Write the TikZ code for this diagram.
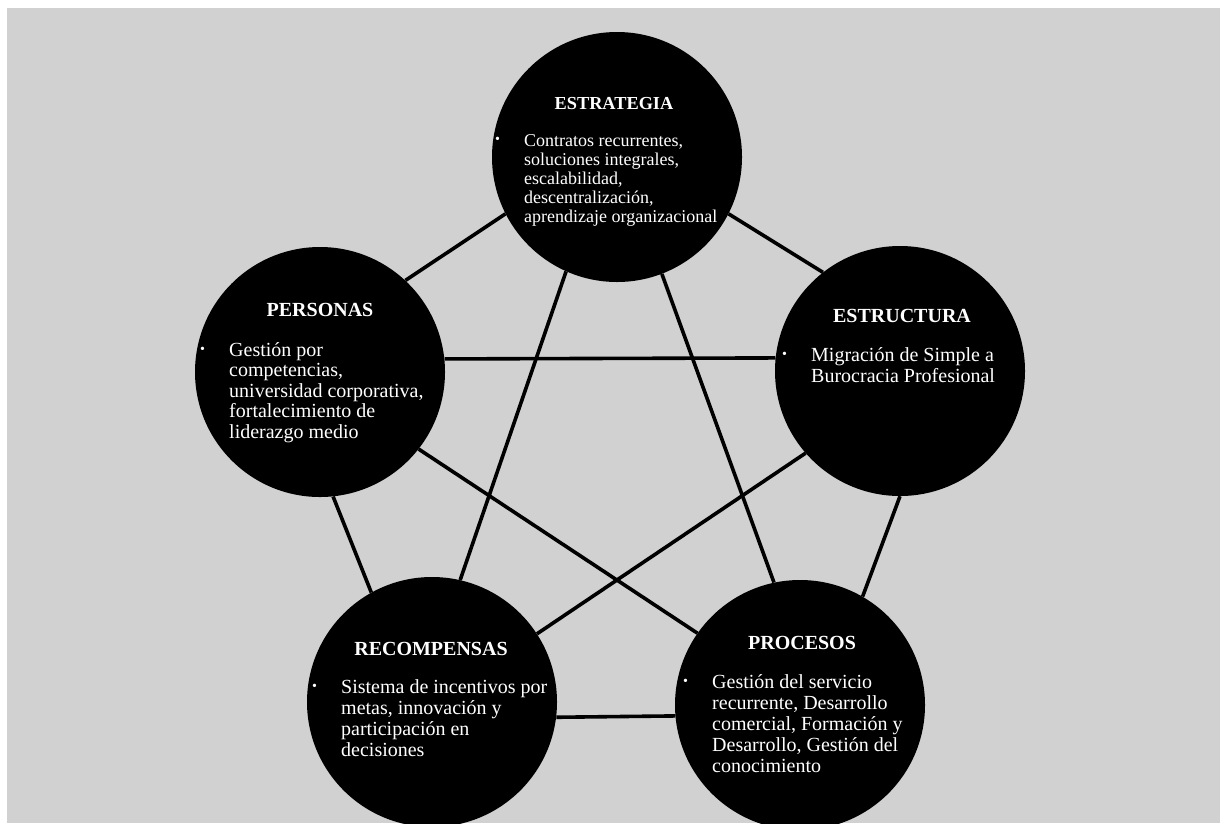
\documentclass[tikz,border=0pt]{standalone}
\usepackage{fontspec}
\setmainfont{Liberation Serif}

\definecolor{panelgray}{RGB}{209,209,209}
\pgfdeclarelayer{paper}
\pgfdeclarelayer{links}
\pgfsetlayers{paper,links,main}

% small white bullet with a fixed hanging width
\newcommand{\listdot}{\makebox[29pt][l]{\raisebox{3pt}{\fontsize{14}{14}\selectfont\textbullet}}}

\begin{document}
\begin{tikzpicture}[x=1pt,y=-1pt,
  hub/.style={circle,fill=black,minimum size=250pt,inner sep=0pt},
  link/.style={line width=3.6pt,black},
  title/.style={anchor=base,text=white,inner sep=0pt,
    font=\bfseries\fontsize{20}{20}\selectfont},
  body/.style={anchor=base west,text=white,inner sep=0pt,
    font=\fontsize{20}{21}\selectfont}]

\useasboundingbox (0,0) rectangle (1220,823);
\clip (0,0) rectangle (1220,823);

\begin{pgfonlayer}{paper}
  \fill[white] (0,0) rectangle (1220,823);
  \fill[panelgray] (7,8) rectangle (1220,823);
\end{pgfonlayer}

% the five circles
\node[hub] (est)  at (617,157) {};
\node[hub] (per)  at (320,372) {};
\node[hub] (estr) at (900,371) {};
\node[hub] (rec)  at (432,702) {};
\node[hub] (pro)  at (800,705) {};

% every circle is linked to every other one
\begin{pgfonlayer}{links}
  \draw[link] (est.207)   -- (per.47);
  \draw[link] (est.333)   -- (estr.128.5);
  \draw[link] (per.6.4)   -- (estr.174);
  \draw[link] (per.276)   -- (rec.119.6);
  \draw[link] (estr.270)  -- (pro.60);
  \draw[link] (rec.353)   -- (pro.185.5);
  \draw[link] (est.246.7) -- (rec.77);
  \draw[link] (est.291.8) -- (pro.102.8);
  \draw[link] (per.322.2) -- (pro.145.6);
  \draw[link] (estr.221.4) -- (rec.33.4);
\end{pgfonlayer}

% ESTRATEGIA
\node[title,font=\bfseries\fontsize{18.3}{19}\selectfont] (est-t) at (614,109) {ESTRATEGIA};
\node[body,font=\fontsize{18}{19}\selectfont] (est-b) at (495,146) {%
  \begin{tabular}[t]{@{}l@{}l@{}}
  \listdot & Contratos recurrentes,\\
           & soluciones integrales,\\
           & escalabilidad,\\
           & descentralización,\\
           & aprendizaje organizacional
  \end{tabular}};

% PERSONAS
\node[title] (per-t) at (320,316) {PERSONAS};
\node[body,font=\fontsize{20}{20.5}\selectfont] (per-b) at (200,356) {%
  \begin{tabular}[t]{@{}l@{}l@{}}
  \listdot & Gestión por\\
           & competencias,\\
           & universidad corporativa,\\
           & fortalecimiento de\\
           & liderazgo medio
  \end{tabular}};

% ESTRUCTURA
\node[title] (estr-t) at (902,322) {ESTRUCTURA};
\node[body] (estr-b) at (782,361) {%
  \begin{tabular}[t]{@{}l@{}l@{}}
  \listdot & Migración de Simple a\\
           & Burocracia Profesional
  \end{tabular}};

% RECOMPENSAS
\node[title] (rec-t) at (431,655) {RECOMPENSAS};
\node[body] (rec-b) at (312,693) {%
  \begin{tabular}[t]{@{}l@{}l@{}}
  \listdot & Sistema de incentivos por\\
           & metas, innovación y\\
           & participación en\\
           & decisiones
  \end{tabular}};

% PROCESOS
\node[title] (pro-t) at (802,649) {PROCESOS};
\node[body] (pro-b) at (683,688) {%
  \begin{tabular}[t]{@{}l@{}l@{}}
  \listdot & Gestión del servicio\\
           & recurrente, Desarrollo\\
           & comercial, Formación y\\
           & Desarrollo, Gestión del\\
           & conocimiento
  \end{tabular}};

\end{tikzpicture}
\end{document}
